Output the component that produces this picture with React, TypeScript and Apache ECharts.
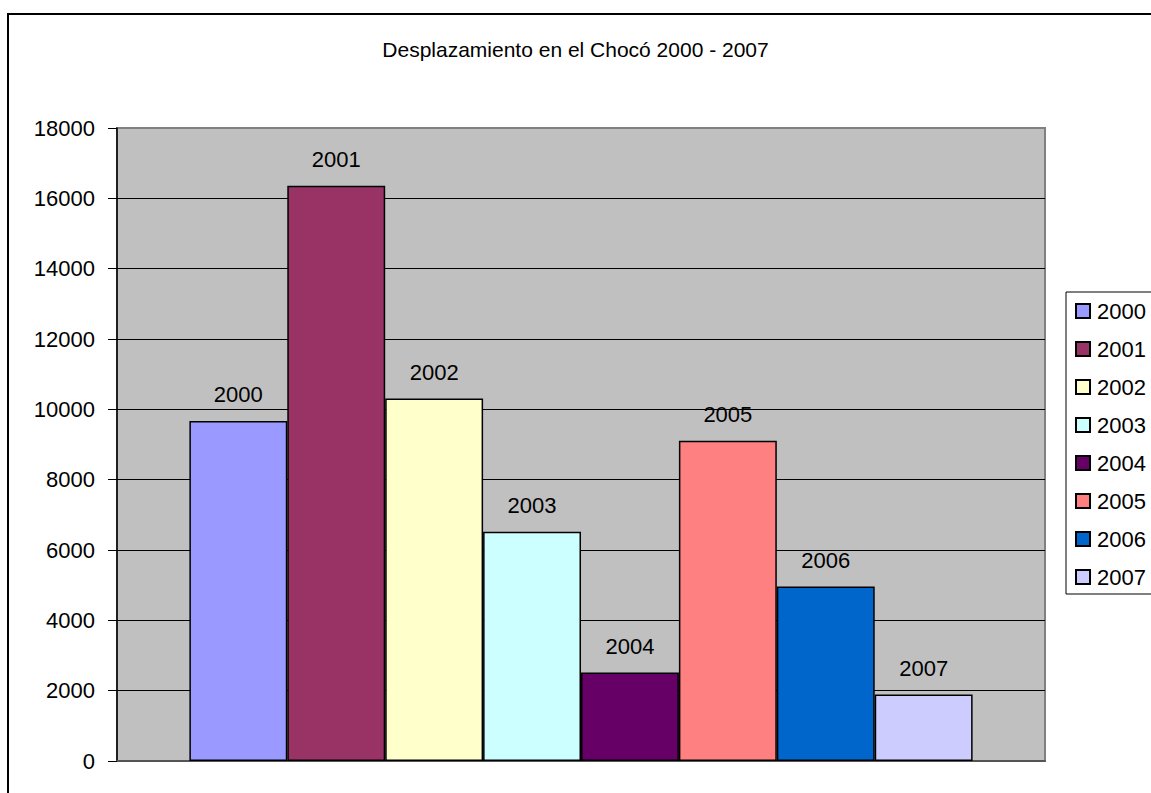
import React, { useEffect, useRef } from "react";
import * as echarts from "echarts";

const years = ["2000", "2001", "2002", "2003", "2004", "2005", "2006", "2007"];
const values = [9670, 16360, 10310, 6520, 2520, 9110, 4960, 1890];
const colors = ["#9999FF", "#993366", "#FFFFCC", "#CCFFFF", "#660066", "#FF8080", "#0066CC", "#CCCCFF"];
const titleText = "Desplazamiento en el Chocó 2000 - 2007";
const categories = [""];

const FONT = "'Liberation Sans', Arial, sans-serif";

export default function App() {
  const ref = useRef<HTMLDivElement>(null);
  useEffect(() => {
    document.body.style.margin = "0";
    document.body.style.overflow = "hidden";
    const chart = echarts.init(ref.current!, null, { renderer: "svg" });
    chart.setOption({
      animation: false,
      backgroundColor: "#ffffff",
      textStyle: { fontFamily: FONT },
      title: {
        text: titleText,
        left: "center",
        top: 39,
        padding: 0,
        textStyle: { fontFamily: FONT, fontSize: 21, fontWeight: "normal", color: "#000" },
      },
      graphic: [
        {
          type: "rect",
          shape: { x: 8, y: 14, width: 1300, height: 900 },
          style: { fill: "none", stroke: "#000", lineWidth: 2 },
          silent: true,
          z: 100,
        },
      ],
      legend: {
        orient: "vertical",
        left: 1066,
        top: 292,
        padding: [8, 40, 6, 9],
        itemGap: 16,
        itemWidth: 14,
        itemHeight: 14,
        icon: "rect",
        backgroundColor: "#fff",
        borderColor: "#000",
        borderWidth: 1,
        textStyle: { fontFamily: FONT, fontSize: 22, color: "#000", padding: [0, 0, 0, 2] },
        data: years,
      },
      grid: {
        left: 117,
        top: 128,
        right: 106,
        bottom: 32,
        show: true,
        backgroundColor: "#C0C0C0",
        borderColor: "#808080",
        borderWidth: 2,
      },
      xAxis: {
        type: "category",
        data: categories,
        axisLine: { show: true, lineStyle: { color: "#555", width: 2 } },
        axisTick: { show: false },
        axisLabel: { show: false },
      },
      yAxis: {
        type: "value",
        min: 0,
        max: 18000,
        interval: 2000,
        axisLine: { show: true, lineStyle: { color: "#000", width: 1.5 } },
        axisTick: { show: true, length: 9, lineStyle: { color: "#000", width: 1 } },
        axisLabel: {
          margin: 22,
          fontFamily: FONT,
          fontSize: 22,
          color: "#000",
          formatter: (v: number) => String(v),
        },
        splitLine: { show: true, showMaxLine: false, lineStyle: { color: "#000", width: 1 } },
      },
      series: years.map((y, i) => ({
        name: y,
        type: "bar",
        data: [values[i]],
        barGap: "0%",
        barCategoryGap: "15.6%",
        itemStyle: { color: colors[i], borderColor: "#000", borderWidth: 1.5 },
        label: {
          show: true,
          position: "top",
          distance: 15,
          formatter: y,
          fontFamily: FONT,
          fontSize: 22,
          color: "#000",
        },
      })),
    });
    return () => chart.dispose();
  }, []);
  return <div ref={ref} style={{ width: 1151, height: 793 }} />;
}
